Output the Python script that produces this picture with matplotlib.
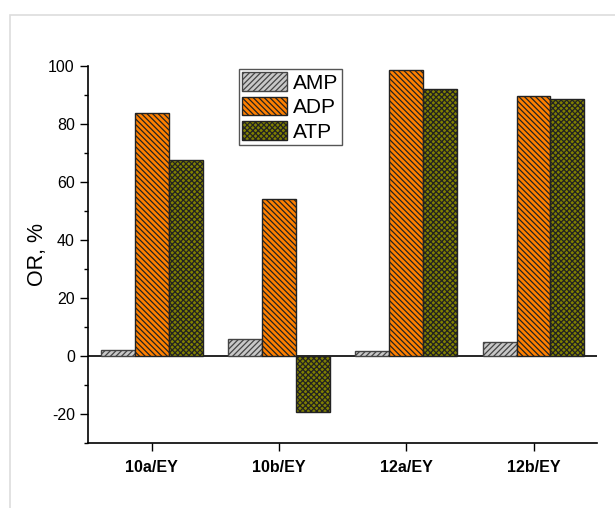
import matplotlib
matplotlib.use('Agg')
import matplotlib.pyplot as plt
import numpy as np
from matplotlib.patches import Rectangle

categories = ['10a/EY', '10b/EY', '12a/EY', '12b/EY']
amp = [2.2, 5.8, 1.8, 4.9]
adp = [83.8, 54.2, 98.5, 89.8]
atp = [67.5, -19.2, 92.0, 88.6]

plt.rcParams['font.family'] = ['Liberation Sans', 'DejaVu Sans']
plt.rcParams['hatch.linewidth'] = 0.9
plt.rcParams['axes.unicode_minus'] = False

def main():
  fig = plt.figure(figsize=(6.15, 5.08), dpi=100)
  fig.patches.append(Rectangle((10 / 615, -0.1), 1.2, 1.1 - 15 / 508,
                               transform=fig.transFigure, fill=False,
                               edgecolor='#dddddd', linewidth=1.2))
  ax = fig.add_axes([0.143, 0.128, 0.828, 0.742])

  x = np.arange(1, len(categories) + 1)
  w = 0.8 / 3

  ax.bar(x - w, amp, w, color='#c8c8c8', edgecolor='#444444', hatch='//////', linewidth=1, label='AMP')
  ax.bar(x, adp, w, color='#ff8000', edgecolor='#222222', hatch='\\\\\\\\\\\\', linewidth=1, label='ADP')
  ax.bar(x + w, atp, w, color='#808000', edgecolor='#222222', hatch='xxxxxx', linewidth=1, label='ATP')

  ax.axhline(0, color='black', linewidth=1.2, zorder=0.5)

  ax.set_xlim(0.5, 4.5)
  ax.set_ylim(-30, 100)
  ax.set_yticks(np.arange(-20, 101, 20))
  ax.set_yticks(np.arange(-30, 101, 10), minor=True)
  ax.set_xticks(x)
  ax.set_xticklabels(categories, fontweight='bold', fontsize=11.5)
  ax.tick_params(axis='y', which='major', direction='out', length=6, width=1, labelsize=11.5)
  ax.tick_params(axis='y', which='minor', direction='out', length=3, width=1)
  ax.tick_params(axis='x', which='major', direction='out', length=6, width=1, pad=6)
  ax.spines['top'].set_visible(False)
  ax.spines['right'].set_visible(False)
  ax.spines['left'].set_linewidth(1.2)
  ax.spines['bottom'].set_linewidth(1.2)
  ax.set_ylabel('OR, %', fontsize=15.5, labelpad=0)

  leg = ax.legend(loc='upper left', bbox_to_anchor=(0.297, 0.992), fontsize=15,
                  fancybox=False, edgecolor='#555555', framealpha=1,
                  handlelength=2.15, handleheight=1.0, borderpad=0.15,
                  labelspacing=0.2, handletextpad=0.3, borderaxespad=0)
  leg.get_frame().set_linewidth(1)

  fig.savefig('out.png', dpi=100)

if __name__ == '__main__':
  main()
